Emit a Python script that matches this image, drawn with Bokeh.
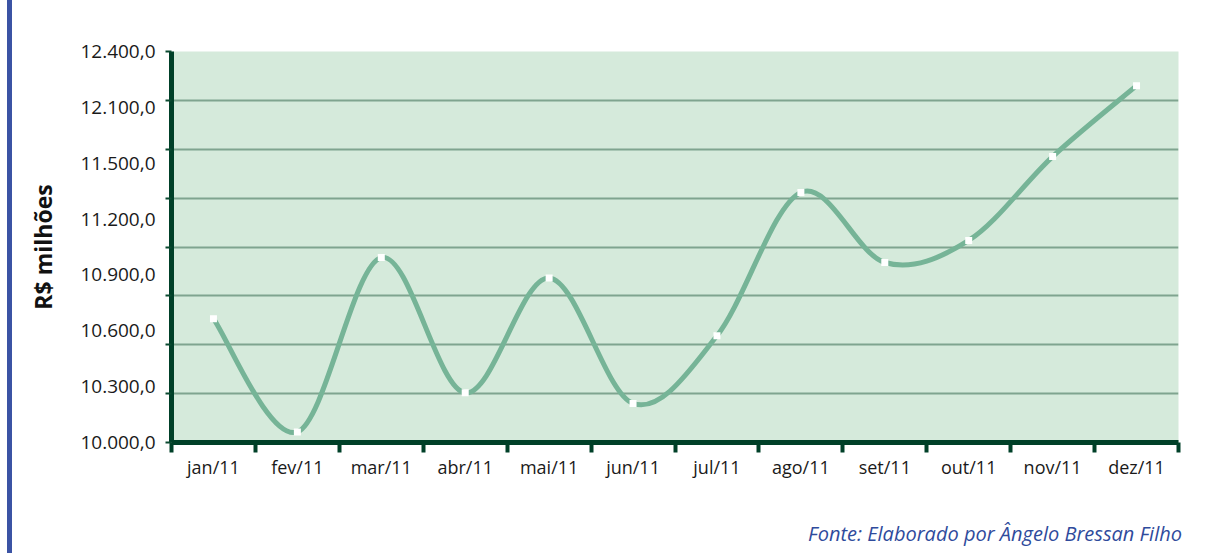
from bokeh.plotting import figure
from bokeh.models import FixedTicker, Range1d, Div
from bokeh.layouts import row, column
from bokeh.embed import file_html
from bokeh.resources import INLINE

# ---- data ----
months = ["jan/11", "fev/11", "mar/11", "abr/11", "mai/11", "jun/11",
          "jul/11", "ago/11", "set/11", "out/11", "nov/11", "dez/11"]
values = [10760, 10065, 11135, 10305, 11010, 10240,
          10655, 11535, 11105, 11240, 11755, 12190]
grid_values = [10000, 10300, 10600, 10900, 11200, 11500, 11800, 12100, 12400]
y_tick_labels = ["10.000,0", "10.300,0", "10.600,0", "10.900,0",
                 "11.200,0", "11.500,0", "12.100,0", "12.400,0"]
y_title = "R$ milhões"
source = "Fonte: Elaborado por Ângelo Bressan Filho"

Y0, Y1 = 10000, 12400
n = len(months)
xs = [i + 0.5 for i in range(n)]

W, H = 1185, 518
p = figure(width=W, height=H, output_backend="svg", toolbar_location=None,
           x_range=Range1d(0, n), y_range=Range1d(Y0, Y1),
           min_border_left=159, min_border_right=19,
           min_border_top=51, min_border_bottom=H - 442)
p.background_fill_color = "#d5eadb"
p.border_fill_color = "white"
p.outline_line_color = None

# y axis: labels spread evenly, small ticks at gridlines
nl = len(y_tick_labels)
label_pos = [Y0 + k * (Y1 - Y0) / (nl - 1) for k in range(nl)]
p.yaxis.ticker = FixedTicker(ticks=label_pos, minor_ticks=grid_values)
p.yaxis.major_label_overrides = {pos: lab for pos, lab in zip(label_pos, y_tick_labels)}
p.yaxis.major_tick_out = 0
p.yaxis.major_tick_in = 0
p.yaxis.minor_tick_out = 6
p.yaxis.minor_tick_in = 0
p.yaxis.minor_tick_line_width = 2
p.yaxis.minor_tick_line_color = "#0b4a30"
p.yaxis.axis_line_width = 5
p.yaxis.axis_line_color = "#004028"
p.yaxis.major_label_standoff = 10
p.yaxis.major_label_text_font = "Open Sans"
p.yaxis.major_label_text_font_size = "19px"
p.yaxis.major_label_text_color = "#1a1a1a"
p.yaxis.axis_label = y_title
p.yaxis.axis_label_text_font = "Open Sans"
p.yaxis.axis_label_text_font_style = "bold"
p.yaxis.axis_label_text_font_size = "23px"
p.yaxis.axis_label_text_color = "#111111"
p.yaxis.axis_label_standoff = 18

p.ygrid.ticker = FixedTicker(ticks=grid_values)
p.ygrid.grid_line_color = "#7fa48f"
p.ygrid.grid_line_width = 2
p.xgrid.grid_line_color = None

# x axis: labels centred, tick marks at category boundaries
p.xaxis.ticker = FixedTicker(ticks=xs, minor_ticks=list(range(n + 1)))
p.xaxis.major_label_overrides = {x: m for x, m in zip(xs, months)}
p.xaxis.major_tick_out = 0
p.xaxis.major_tick_in = 0
p.xaxis.minor_tick_out = 10
p.xaxis.minor_tick_in = 0
p.xaxis.minor_tick_line_width = 4
p.xaxis.minor_tick_line_color = "#004028"
p.xaxis.axis_line_width = 5
p.xaxis.axis_line_color = "#004028"
p.xaxis.major_label_standoff = 2
p.xaxis.major_label_text_font = "Open Sans"
p.xaxis.major_label_text_font_size = "18px"
p.xaxis.major_label_text_color = "#1a1a1a"

# smooth line: Catmull-Rom segments as bezier glyphs
x0, y0, x1, y1, cx0, cy0, cx1, cy1 = [], [], [], [], [], [], [], []
for i in range(n - 1):
    pa = (xs[i - 1], values[i - 1]) if i > 0 else (xs[i], values[i])
    pb = (xs[i], values[i])
    pc = (xs[i + 1], values[i + 1])
    pd = (xs[i + 2], values[i + 2]) if i + 2 < n else pc
    x0.append(pb[0]); y0.append(pb[1]); x1.append(pc[0]); y1.append(pc[1])
    cx0.append(pb[0] + (pc[0] - pa[0]) / 6); cy0.append(pb[1] + (pc[1] - pa[1]) / 6)
    cx1.append(pc[0] - (pd[0] - pb[0]) / 6); cy1.append(pc[1] - (pd[1] - pb[1]) / 6)
p.bezier(x0=x0, y0=y0, x1=x1, y1=y1, cx0=cx0, cy0=cy0, cx1=cx1, cy1=cy1,
         line_color="#76b497", line_width=5, line_cap="round")
p.scatter(xs, values, marker="square", size=7, fill_color="white", line_color=None)

# source note
src = Div(text=source, width=W, height=555 - H - 2,
          styles={"font-family": "Open Sans", "font-style": "italic",
                  "font-size": "20px", "color": "#2f4b9c", "text-align": "right",
                  "padding-right": "20px", "padding-top": "0px",
                  "box-sizing": "border-box", "line-height": "22px"})

# left blue bar
bar = Div(text="", width=5, height=553, margin=(0, 0, 0, 7),
          styles={"background-color": "#3b53a4"})

layout = row(bar, column(p, src, spacing=0), spacing=0)
open("out.html", "w").write(file_html(layout, INLINE))
